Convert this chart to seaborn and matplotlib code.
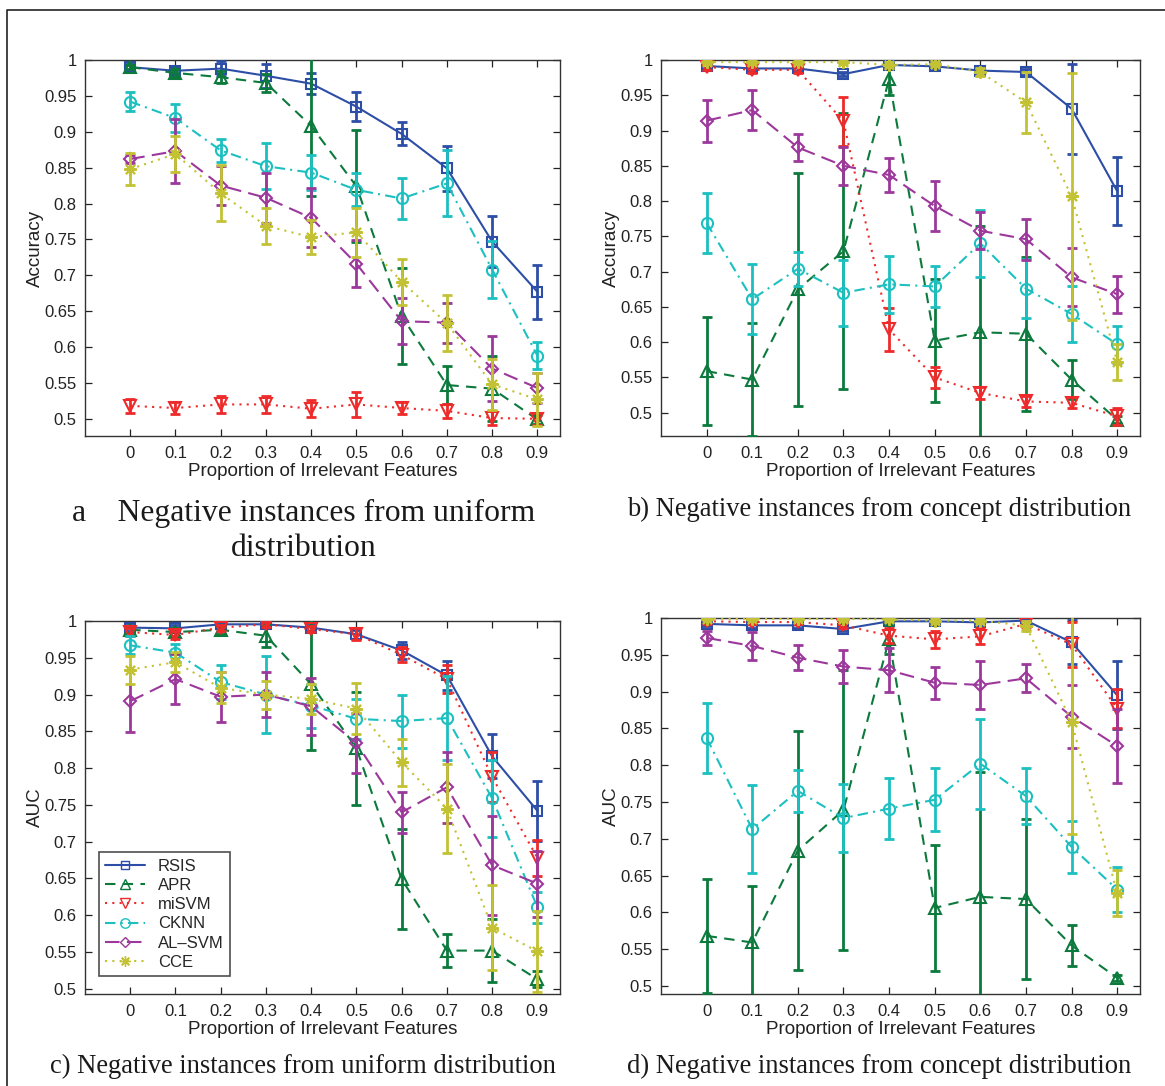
import numpy as np
import pandas as pd
import matplotlib
matplotlib.use("Agg")
import matplotlib.pyplot as plt
from matplotlib.lines import Line2D
import seaborn as sns

# ---------------- data ----------------
x_props = [0, 0.1, 0.2, 0.3, 0.4, 0.5, 0.6, 0.7, 0.8, 0.9]
methods = ["RSIS", "APR", "miSVM", "CKNN", "AL\u2013SVM", "CCE"]

# Panel a: accuracy, negatives from uniform distribution
acc_uni_rsis = [0.990, 0.985, 0.988, 0.978, 0.967, 0.935, 0.897, 0.849, 0.747, 0.677]
acc_uni_rsis_err = [0.004, 0.005, 0.010, 0.017, 0.015, 0.020, 0.016, 0.031, 0.036, 0.038]
acc_uni_apr = [0.990, 0.982, 0.976, 0.968, 0.908, 0.824, 0.643, 0.547, 0.542, 0.499]
acc_uni_apr_err = [0.003, 0.005, 0.008, 0.012, 0.097, 0.078, 0.067, 0.027, 0.045, 0.006]
acc_uni_misvm = [0.518, 0.515, 0.520, 0.520, 0.514, 0.520, 0.515, 0.511, 0.501, 0.500]
acc_uni_misvm_err = [0.010, 0.008, 0.012, 0.012, 0.012, 0.018, 0.008, 0.010, 0.010, 0.008]
acc_uni_cknn = [0.942, 0.919, 0.874, 0.852, 0.843, 0.819, 0.807, 0.828, 0.708, 0.588]
acc_uni_cknn_err = [0.013, 0.019, 0.016, 0.032, 0.024, 0.023, 0.029, 0.046, 0.040, 0.019]
acc_uni_alsvm = [0.862, 0.873, 0.825, 0.808, 0.780, 0.716, 0.636, 0.634, 0.570, 0.543]
acc_uni_alsvm_err = [0.006, 0.045, 0.027, 0.035, 0.041, 0.033, 0.032, 0.028, 0.045, 0.021]
acc_uni_cce = [0.848, 0.869, 0.814, 0.769, 0.753, 0.760, 0.691, 0.633, 0.548, 0.527]
acc_uni_cce_err = [0.022, 0.025, 0.039, 0.025, 0.024, 0.034, 0.032, 0.039, 0.036, 0.037]

# Panel b: accuracy, negatives from concept distribution
acc_con_rsis = [0.9915, 0.988, 0.988, 0.980, 0.993, 0.991, 0.985, 0.983, 0.931, 0.814]
acc_con_rsis_err = [0.003, 0.003, 0.003, 0.003, 0.003, 0.003, 0.004, 0.004, 0.064, 0.048]
acc_con_apr = [0.559, 0.547, 0.675, 0.729, 0.973, 0.602, 0.614, 0.612, 0.547, 0.490]
acc_con_apr_err = [0.077, 0.080, 0.165, 0.196, 0.022, 0.087, 0.150, 0.109, 0.028, 0.005]
acc_con_misvm = [0.990, 0.986, 0.986, 0.913, 0.618, 0.550, 0.528, 0.516, 0.514, 0.495]
acc_con_misvm_err = [0.004, 0.004, 0.004, 0.035, 0.031, 0.015, 0.008, 0.008, 0.008, 0.012]
acc_con_cknn = [0.769, 0.661, 0.704, 0.670, 0.682, 0.679, 0.740, 0.676, 0.640, 0.597]
acc_con_cknn_err = [0.043, 0.050, 0.024, 0.047, 0.040, 0.029, 0.048, 0.042, 0.040, 0.026]
acc_con_alsvm = [0.914, 0.929, 0.876, 0.850, 0.837, 0.793, 0.758, 0.746, 0.692, 0.668]
acc_con_alsvm_err = [0.030, 0.028, 0.019, 0.027, 0.024, 0.035, 0.026, 0.029, 0.041, 0.026]
acc_con_cce = [0.997, 0.997, 0.997, 0.997, 0.993, 0.994, 0.983, 0.940, 0.807, 0.572]
acc_con_cce_err = [0.002, 0.002, 0.002, 0.002, 0.003, 0.003, 0.005, 0.043, 0.175, 0.025]

# Panel c: AUC, negatives from uniform distribution
auc_uni_rsis = [0.991, 0.990, 0.9955, 0.9955, 0.991, 0.982, 0.960, 0.926, 0.816, 0.742]
auc_uni_rsis_err = [0.004, 0.004, 0.003, 0.003, 0.004, 0.006, 0.011, 0.020, 0.030, 0.041]
auc_uni_apr = [0.988, 0.985, 0.988, 0.980, 0.914, 0.827, 0.649, 0.552, 0.552, 0.513]
auc_uni_apr_err = [0.004, 0.005, 0.005, 0.016, 0.090, 0.077, 0.068, 0.022, 0.043, 0.011]
auc_uni_misvm = [0.985, 0.981, 0.991, 0.9955, 0.989, 0.982, 0.954, 0.921, 0.788, 0.678]
auc_uni_misvm_err = [0.005, 0.006, 0.004, 0.003, 0.004, 0.008, 0.010, 0.019, 0.034, 0.024]
auc_uni_cknn = [0.967, 0.957, 0.917, 0.900, 0.885, 0.867, 0.864, 0.868, 0.759, 0.611]
auc_uni_cknn_err = [0.012, 0.012, 0.023, 0.052, 0.030, 0.027, 0.036, 0.057, 0.052, 0.021]
auc_uni_alsvm = [0.891, 0.921, 0.897, 0.900, 0.884, 0.834, 0.740, 0.774, 0.668, 0.643]
auc_uni_alsvm_err = [0.042, 0.034, 0.034, 0.031, 0.039, 0.041, 0.028, 0.048, 0.067, 0.045]
auc_uni_cce = [0.934, 0.944, 0.909, 0.900, 0.894, 0.881, 0.808, 0.745, 0.583, 0.551]
auc_uni_cce_err = [0.019, 0.014, 0.021, 0.019, 0.020, 0.035, 0.032, 0.060, 0.058, 0.055]

# Panel d: AUC, negatives from concept distribution
auc_con_rsis = [0.992, 0.990, 0.990, 0.985, 0.9955, 0.9955, 0.994, 0.9965, 0.967, 0.895]
auc_con_rsis_err = [0.003, 0.003, 0.003, 0.003, 0.003, 0.003, 0.003, 0.003, 0.030, 0.046]
auc_con_apr = [0.568, 0.559, 0.684, 0.739, 0.971, 0.606, 0.621, 0.618, 0.555, 0.511]
auc_con_apr_err = [0.077, 0.077, 0.163, 0.190, 0.020, 0.086, 0.170, 0.109, 0.028, 0.004]
auc_con_misvm = [0.9955, 0.9945, 0.9945, 0.990, 0.976, 0.971, 0.975, 0.992, 0.964, 0.877]
auc_con_misvm_err = [0.003, 0.003, 0.003, 0.004, 0.010, 0.012, 0.011, 0.004, 0.031, 0.026]
auc_con_cknn = [0.837, 0.713, 0.765, 0.728, 0.741, 0.753, 0.802, 0.758, 0.689, 0.631]
auc_con_cknn_err = [0.048, 0.060, 0.028, 0.046, 0.042, 0.043, 0.061, 0.038, 0.035, 0.030]
auc_con_alsvm = [0.973, 0.962, 0.946, 0.934, 0.929, 0.912, 0.909, 0.918, 0.866, 0.826]
auc_con_alsvm_err = [0.010, 0.019, 0.017, 0.022, 0.030, 0.022, 0.032, 0.019, 0.043, 0.050]
auc_con_cce = [0.999, 0.999, 0.999, 0.999, 0.998, 0.9965, 0.9965, 0.9895, 0.859, 0.626]
auc_con_cce_err = [0.002, 0.002, 0.002, 0.002, 0.002, 0.002, 0.002, 0.007, 0.152, 0.031]

x_ticks = [0, 0.1, 0.2, 0.3, 0.4, 0.5, 0.6, 0.7, 0.8, 0.9]
x_tick_labels = ["0", "0.1", "0.2", "0.3", "0.4", "0.5", "0.6", "0.7", "0.8", "0.9"]
y_ticks = [0.5, 0.55, 0.6, 0.65, 0.7, 0.75, 0.8, 0.85, 0.9, 0.95, 1.0]
y_tick_labels = ["0.5", "0.55", "0.6", "0.65", "0.7", "0.75", "0.8", "0.85", "0.9", "0.95", "1"]

captions = [
    "a    Negative instances from uniform\ndistribution",
    "b) Negative instances from concept distribution",
    "c) Negative instances from uniform distribution",
    "d) Negative instances from concept distribution",
]
ylabels = ["Accuracy", "Accuracy", "AUC", "AUC"]
xlabel = "Proportion of Irrelevant Features"

# ---------------- styles ----------------
colors = ["#2d4ea6", "#0c7a3c", "#ee2a2a", "#1cc0c0", "#9c389c", "#c2c234"]
markers = ["s", "^", "v", "o", "D", (8, 2, 0)]
msizes = [7, 8, 8, 8, 6.5, 9]
dashes = ["-", (0, (5, 3.5)), (0, (1, 2.5)), (0, (5, 2.5, 1, 2.5)), (0, (7, 3.5)), (0, (1, 2.5))]

sns.set_theme(style="white")
plt.rcParams["font.family"] = ["Liberation Sans", "DejaVu Sans"]

fig = plt.figure(figsize=(11.65, 10.86), dpi=100)
fig.patch.set_facecolor("white")

W, H = 1165.0, 1086.0
boxes = [
    (85, 60, 560, 436),
    (661, 60, 1140, 436),
    (85, 621, 560, 994),
    (661, 618, 1140, 994),
]
ylims = [(0.476, 1.0), (0.467, 1.0), (0.493, 1.0), (0.489, 1.0)]

panels = [
    ([acc_uni_rsis, acc_uni_apr, acc_uni_misvm, acc_uni_cknn, acc_uni_alsvm, acc_uni_cce],
     [acc_uni_rsis_err, acc_uni_apr_err, acc_uni_misvm_err, acc_uni_cknn_err, acc_uni_alsvm_err, acc_uni_cce_err]),
    ([acc_con_rsis, acc_con_apr, acc_con_misvm, acc_con_cknn, acc_con_alsvm, acc_con_cce],
     [acc_con_rsis_err, acc_con_apr_err, acc_con_misvm_err, acc_con_cknn_err, acc_con_alsvm_err, acc_con_cce_err]),
    ([auc_uni_rsis, auc_uni_apr, auc_uni_misvm, auc_uni_cknn, auc_uni_alsvm, auc_uni_cce],
     [auc_uni_rsis_err, auc_uni_apr_err, auc_uni_misvm_err, auc_uni_cknn_err, auc_uni_alsvm_err, auc_uni_cce_err]),
    ([auc_con_rsis, auc_con_apr, auc_con_misvm, auc_con_cknn, auc_con_alsvm, auc_con_cce],
     [auc_con_rsis_err, auc_con_apr_err, auc_con_misvm_err, auc_con_cknn_err, auc_con_alsvm_err, auc_con_cce_err]),
]

axes = []
for pi, ((series, errs), (l, t, r, b)) in enumerate(zip(panels, boxes)):
    ax = fig.add_axes([l / W, 1 - b / H, (r - l) / W, (b - t) / H])
    axes.append(ax)
    for mi, name in enumerate(methods):
        df = pd.DataFrame({"x": x_props, "y": series[mi]})
        sns.lineplot(data=df, x="x", y="y", ax=ax, color=colors[mi],
                     linestyle=dashes[mi], linewidth=1.5, marker=markers[mi],
                     markersize=msizes[mi], markerfacecolor="none",
                     markeredgecolor=colors[mi], markeredgewidth=1.5,
                     errorbar=None, label=name, legend=False, zorder=3 + mi)
        ax.errorbar(x_props, series[mi], yerr=errs[mi], fmt="none",
                    ecolor=colors[mi], elinewidth=2.0, capsize=3.5,
                    capthick=2.0, zorder=3 + mi)
    ax.set_xlim(-0.1, 0.95)
    ax.set_ylim(*ylims[pi])
    ax.set_xticks(x_ticks)
    ax.set_xticklabels(x_tick_labels)
    ax.set_yticks(y_ticks)
    ax.set_yticklabels(y_tick_labels)
    ax.tick_params(direction="in", length=5, width=0.9, top=True, right=True,
                   bottom=True, left=True, labelsize=12, colors="#222222",
                   pad=6)
    ax.tick_params(axis="x", pad=7)
    for s in ax.spines.values():
        s.set_visible(True)
        s.set_color("#333333")
        s.set_linewidth(1.0)
    ax.set_xlabel(xlabel, fontsize=13.5, labelpad=2, color="#222222")
    ax.set_ylabel(ylabels[pi], fontsize=13.5, labelpad=0.5, color="#222222")
    ax.grid(False)

# legend in panel c
handles = [Line2D([0], [0], color=colors[i], linestyle=dashes[i], linewidth=1.5,
                  marker=markers[i], markersize=msizes[i] * 0.85, markerfacecolor="none",
                  markeredgecolor=colors[i], markeredgewidth=1.0)
           for i in range(len(methods))]
leg = axes[2].legend(handles, methods, loc="lower left", bbox_to_anchor=(0.022, 0.038),
                     fontsize=12, frameon=True, fancybox=False, handlelength=2.4,
                     handletextpad=0.75, borderpad=0.4, labelspacing=0.25,
                     borderaxespad=0.2)
leg.get_frame().set_edgecolor("#222222")
leg.get_frame().set_linewidth(1.2)

# captions
serif = ["Liberation Serif", "DejaVu Serif"]
fig.text(304 / W, 1 - 531 / H, captions[0], ha="center", va="center",
         fontsize=22.8, family=serif, color="#1a1a1a", linespacing=1.3,
         multialignment="center")
fig.text(879 / W, 1 - 509 / H, captions[1], ha="center", va="center",
         fontsize=19.1, family=serif, color="#1a1a1a")
fig.text(303 / W, 1 - 1066 / H, captions[2], ha="center", va="center",
         fontsize=19.1, family=serif, color="#1a1a1a")
fig.text(879 / W, 1 - 1066 / H, captions[3], ha="center", va="center",
         fontsize=19.1, family=serif, color="#1a1a1a")

# outer frame (left and top edges)
fig.add_artist(Line2D([7 / W, 7 / W, 1.0], [0.0, 1 - 10 / H, 1 - 10 / H],
                      transform=fig.transFigure, color="#222222", linewidth=1.2))

fig.savefig("out.png", dpi=100, facecolor="white")
